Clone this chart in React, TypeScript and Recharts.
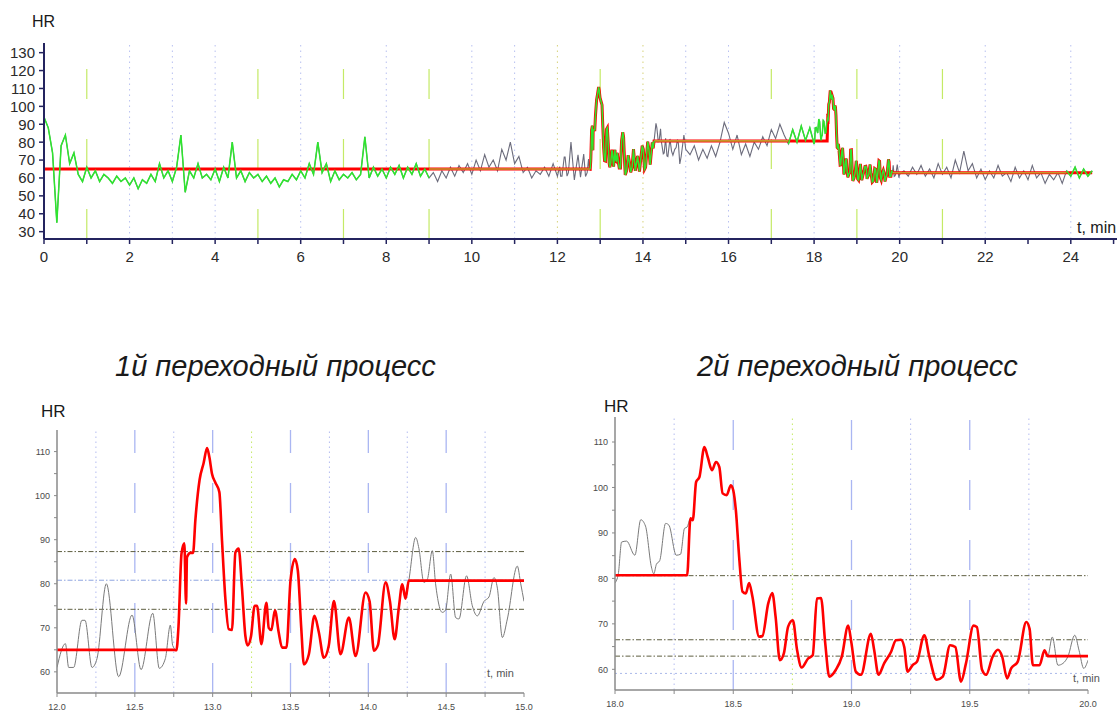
import React from "react";
import { LineChart, Line, XAxis, YAxis, ReferenceLine } from "recharts";

const FONT = '"Liberation Sans", Arial, Helvetica, sans-serif';
const NAVY = "#24245f";
const AXIS_GRAY = "#8a8a8a";

// ─── Overview record (0.1 min samples) ────────────────────────────────────────
const OVERVIEW_STEP = 0.1;

// 0.0 – 11.9 min
const hrStart = [
  94, 88, 74, 35, 78, 84, 68, 74, 62, 58,
  66, 60, 64, 58, 62, 60, 57, 61, 58, 60,
  56, 60, 54, 59, 57, 62, 58, 68, 60, 64,
  58, 66, 84, 52, 64, 60, 68, 60, 62, 59,
  65, 58, 66, 60, 80, 60, 64, 58, 63, 60,
  62, 58, 61, 57, 60, 55, 59, 58, 62, 59,
  64, 60, 68, 62, 80, 63, 68, 58, 64, 59,
  62, 60, 63, 59, 62, 83, 60, 66, 61, 65,
  60, 66, 62, 67, 60, 66, 62, 68, 61, 65,
  60, 63, 58, 64, 60, 66, 61, 67, 63, 68,
  62, 70, 64, 73, 66, 70, 64, 76, 70, 80,
  68, 72, 63, 66, 60, 64, 62, 66, 61, 68,
];

// 15.1 – 17.9 min
const hrMiddle = [
  73, 78, 70, 76, 71, 78, 72, 80, 91, 85,
  76, 84, 73, 79, 72, 80, 76, 83, 78, 87,
  82, 90, 84, 79, 87, 80, 89, 81, 88,
];

// 20.1 – 24.5 min
const hrEnd = [
  64, 61, 66, 62, 67, 61, 65, 60, 68, 62,
  66, 60, 70, 63, 75, 64, 68, 60, 65, 59,
  64, 60, 67, 61, 63, 58, 66, 60, 64, 59,
  67, 60, 63, 57, 62, 59, 63, 57, 64, 61,
  66, 60, 65, 61, 64,
];

// ─── 1st transient, 12 – 15 min ──────────────────────────────────────────────
const transient1Times = [
  12.0, 12.054, 12.075, 12.107, 12.16, 12.18, 12.225, 12.257, 12.317, 12.396,
  12.482, 12.54, 12.615, 12.657, 12.696, 12.728, 12.743, 12.767, 12.78, 12.8,
  12.818, 12.829, 12.835, 12.857, 12.874, 12.889, 12.916, 12.942, 12.964, 12.979,
  12.996, 13.017, 13.043, 13.06, 13.081, 13.103, 13.124, 13.146, 13.167, 13.188,
  13.21, 13.225, 13.246, 13.27, 13.285, 13.313, 13.345, 13.36, 13.377, 13.4,
  13.424, 13.446, 13.474, 13.5, 13.528, 13.547, 13.569, 13.586, 13.618, 13.654,
  13.682, 13.714, 13.746, 13.779, 13.821, 13.875, 13.918, 13.982, 14.008, 14.036,
  14.061, 14.111, 14.139, 14.169, 14.196, 14.218, 14.239, 14.26, 14.304, 14.325,
  14.357, 14.379, 14.411, 14.432, 14.475, 14.496, 14.529, 14.561, 14.582, 14.631,
  14.668, 14.7, 14.743, 14.775, 14.807, 14.829, 14.861, 14.893, 14.957, 14.979, 15.0,
];
const transient1Hr = [
  61, 66.4, 61, 61, 71.7, 71.7, 61, 63, 80, 58.9,
  72.9, 60.5, 73.3, 60.8, 63, 70.6, 66, 64.9, 70, 86.9,
  89.2, 75.5, 86, 87, 87, 94.5, 103.6, 107.4, 110.8, 108.7,
  104.9, 103, 100.8, 89.8, 76.9, 69.7, 69.5, 87.1, 88, 79.2,
  68.2, 66, 68, 75, 75, 66.3, 75.7, 70, 69.5, 74,
  69, 65.5, 65.5, 80.7, 85.6, 83, 70, 61.7, 64, 72.7,
  69, 63.2, 66, 76.1, 64, 72.3, 63.6, 78, 76, 64.8,
  66, 80.3, 76, 67.4, 74.6, 79.9, 76.6, 80.7, 90.5, 88,
  80.3, 81, 87.5, 80, 73.5, 74, 82.2, 72.3, 72, 81.8,
  75, 72.7, 76, 77, 81.4, 79, 67.8, 72, 84, 80, 76,
];

// ─── 2nd transient, 18 – 20 min ──────────────────────────────────────────────
const transient2Times = [
  18.0, 18.014, 18.028, 18.049, 18.084, 18.109, 18.129, 18.154, 18.164, 18.175,
  18.189, 18.214, 18.228, 18.259, 18.277, 18.294, 18.305, 18.319, 18.329, 18.343,
  18.357, 18.378, 18.392, 18.41, 18.427, 18.441, 18.455, 18.472, 18.49, 18.5,
  18.511, 18.525, 18.539, 18.553, 18.567, 18.581, 18.609, 18.623, 18.648, 18.665,
  18.679, 18.697, 18.714, 18.732, 18.752, 18.77, 18.789, 18.817, 18.836, 18.854,
  18.871, 18.889, 18.906, 18.934, 18.959, 18.986, 19.0, 19.018, 19.04, 19.082,
  19.096, 19.114, 19.138, 19.167, 19.188, 19.209, 19.223, 19.237, 19.258, 19.277,
  19.308, 19.329, 19.36, 19.386, 19.417, 19.439, 19.463, 19.484, 19.516, 19.53,
  19.552, 19.569, 19.597, 19.619, 19.637, 19.658, 19.675, 19.703, 19.739, 19.753,
  19.767, 19.795, 19.816, 19.83, 19.849, 19.873, 19.894, 19.915, 19.944, 19.962, 19.982, 20.0,
];
const transient2Hr = [
  79, 81, 88, 88.2, 85.1, 92.9, 91.5, 82.5, 81, 83.1,
  83.9, 92.1, 91.7, 85.1, 85.3, 91, 91.3, 93.2, 92.8, 101.2,
  102.3, 108.9, 106.7, 103.8, 105.6, 104.5, 98.7, 98.3, 100.5, 99.4,
  95, 84.7, 77.1, 76.7, 79, 76, 67.2, 67.3, 74.5, 76.8,
  71.6, 62, 63.5, 69.4, 70.8, 64.2, 60.4, 62.4, 63.1, 75.6,
  75.7, 65.7, 58.4, 59.9, 62.8, 69.6, 65.7, 59.5, 58.8, 67.8,
  64.2, 58.8, 61.3, 63.8, 66.4, 66.5, 64.9, 59.5, 60.9, 61.7,
  67.5, 62.8, 57.7, 58.4, 65.3, 64.9, 57.3, 61.3, 69.6, 69.3,
  59.9, 58.8, 62.8, 64.3, 62.8, 58, 60.2, 61.7, 70.4, 68.9,
  60.9, 60.9, 64.2, 62.9, 67.1, 60.9, 61.3, 62.8, 67.5, 64.2, 60.2, 62,
];

// ─── Steady levels and segments ──────────────────────────────────────────────
const levels = [65, 80.7, 62.9];
const transientWindows: [number, number][] = [[12.767, 14.26], [18.319, 19.83]];
const greenSpans: [number, number][] = [[0, 9], [12.767, 14.26], [17.4, 19.83], [23.9, 24.5]];
const oliveSpans: [number, number][] = [[9, 12.767], [14.26, 17.4], [19.83, 23.9]];

// ─── Tick labels ─────────────────────────────────────────────────────────────
const topXTicks = Array.from({ length: 26 }, (_, i) => i);
const topYTicks = [30, 40, 50, 60, 70, 80, 90, 100, 110, 120, 130];
const zoomYTicks = [60, 65, 70, 75, 80, 85, 90, 95, 100, 105, 110];
const zoom1XTicks = [12, 12.25, 12.5, 12.75, 13, 13.25, 13.5, 13.75, 14, 14.25, 14.5, 14.75, 15];
const zoom2XTicks = [18, 18.25, 18.5, 18.75, 19, 19.25, 19.5, 19.75, 20];

// ─── Grid styling (not data) ─────────────────────────────────────────────────
const topGridKinds = ["g", "b", "b", "b", "g", "b", "g", "b", "g", "b", "b", "y", "g", "y", "b", "b", "g", "b", "g", "b", "g", "b", "", "b"];
const zoom1GridKinds = ["dot", "dash", "dot", "dash", "green", "dash", "dot", "dash", "dot", "dash", "dot"];
const zoom2GridKinds = ["dot", "dash", "green", "dash", "dot", "dash", "dot"];

const gridStyle: Record<string, { stroke: string; dash: string; w: number }> = {
  g: { stroke: "#c4ea66", dash: "30 40", w: 1.2 },
  b: { stroke: "#b8c0f0", dash: "1.5 4", w: 1 },
  y: { stroke: "#d6d27a", dash: "1.5 4", w: 1 },
  dash: { stroke: "#aab6f2", dash: "30 30", w: 1.3 },
  dot: { stroke: "#b4bcf0", dash: "1.5 3.5", w: 1 },
  green: { stroke: "#c4ea66", dash: "1.5 3.5", w: 1 },
  dd: { stroke: "#5e5e40", dash: "5 2 1.5 2", w: 1 },
  db: { stroke: "#8ea4e0", dash: "5 2 1.5 2", w: 1 },
  lb: { stroke: "#aab8ea", dash: "2 3", w: 1 },
};

const zoom1HLines: [number, string][] = [[87.3, "dd"], [80.8, "db"], [74.2, "dd"]];
const zoom2HLines: [number, string][] = [[80.6, "dd"], [66.5, "dd"], [62.9, "dd"], [59.1, "lb"]];

// ─── Series building ─────────────────────────────────────────────────────────
type Pt = { t: number; v: number };

const sampled = (start: number, values: number[]): Pt[] =>
  values.map((v, i) => ({ t: Math.round((start + i * OVERVIEW_STEP) * 100) / 100, v }));
const paired = (times: number[], values: number[]): Pt[] => times.map((t, i) => ({ t, v: values[i] }));

const detail1 = paired(transient1Times, transient1Hr);
const detail2 = paired(transient2Times, transient2Hr);
const overview: Pt[] = [
  ...sampled(0, hrStart),
  ...detail1,
  ...sampled(15.1, hrMiddle),
  ...detail2,
  ...sampled(20.1, hrEnd),
];

const inSpan = (t: number, [a, b]: [number, number]) => t >= a && t <= b;
const levelAt = (t: number) =>
  t < transientWindows[0][0] ? levels[0] : t < transientWindows[1][0] ? levels[1] : levels[2];
const toModel = (pts: Pt[]): Pt[] =>
  pts.map((p) => ({ t: p.t, v: transientWindows.some((w) => inSpan(p.t, w)) ? p.v : levelAt(p.t) }));
const within = (pts: Pt[], span: [number, number]) => pts.filter((p) => inSpan(p.t, span));

const overviewModel = toModel(overview);

// ─── Ticks ───────────────────────────────────────────────────────────────────
type TickOpts = { size: number; fill: string; anchor: "middle" | "end"; dy: string; format: (v: number) => string | null };
const makeTick = (o: TickOpts) => (props: any) => {
  const { x, y, payload } = props;
  const label = o.format(payload.value);
  if (label === null) return <g />;
  return (
    <text x={x} y={y} dy={o.dy} textAnchor={o.anchor} fontSize={o.size} fill={o.fill} fontFamily={FONT}>
      {label}
    </text>
  );
};

const topXTick = makeTick({ size: 15, fill: "#2a2a2a", anchor: "middle", dy: "0.71em", format: (v) => (v % 2 === 0 && v <= 24 ? String(v) : null) });
const topYTick = makeTick({ size: 15, fill: "#2a2a2a", anchor: "end", dy: "0.36em", format: (v) => String(v) });
const zoomXTick = makeTick({ size: 9, fill: "#4a4a4a", anchor: "middle", dy: "0.71em", format: (v) => (Math.abs(v * 2 - Math.round(v * 2)) < 1e-6 ? v.toFixed(1) : null) });
const zoomYTick = makeTick({ size: 9, fill: "#4a4a4a", anchor: "end", dy: "0.36em", format: (v) => (v % 10 === 0 ? String(v) : null) });

const vLine = (x: number, kind: string, key: string) => {
  const s = gridStyle[kind];
  if (!s) return null;
  return <ReferenceLine key={key} x={x} stroke={s.stroke} strokeDasharray={s.dash} strokeWidth={s.w} />;
};
const hLine = (y: number, kind: string, key: string) => {
  const s = gridStyle[kind];
  return <ReferenceLine key={key} y={y} stroke={s.stroke} strokeDasharray={s.dash} strokeWidth={s.w} />;
};

// ─── Charts ──────────────────────────────────────────────────────────────────
function OverviewChart() {
  return (
    <LineChart width={1117} height={280} margin={{ top: 43, right: 0, bottom: 0, left: 0 }}>
      <XAxis
        dataKey="t"
        type="number"
        domain={[0, 25.08]}
        ticks={topXTicks}
        interval={0}
        allowDataOverflow
        height={41}
        tickSize={5}
        tickMargin={7}
        axisLine={{ stroke: NAVY, strokeWidth: 2 }}
        tickLine={{ stroke: NAVY, strokeWidth: 1.5 }}
        tick={topXTick}
      />
      <YAxis
        type="number"
        domain={[25.9, 135.4]}
        ticks={topYTicks}
        interval={0}
        allowDataOverflow
        width={44}
        tickSize={5}
        tickMargin={4}
        axisLine={{ stroke: NAVY, strokeWidth: 2 }}
        tickLine={{ stroke: NAVY, strokeWidth: 1.5 }}
        tick={topYTick}
      />
      {topGridKinds.map((k, i) => vLine(i + 1, k, `tg${i}`))}
      <Line data={overview} dataKey="v" type="linear" stroke="#6c6c7c" strokeWidth={1.1} dot={false} isAnimationActive={false} />
      <Line data={overviewModel} dataKey="v" type="linear" stroke="#ff0000" strokeWidth={3} dot={false} isAnimationActive={false} />
      {oliveSpans.map((s, i) => (
        <Line key={`o${i}`} data={within(overviewModel, s)} dataKey="v" type="linear" stroke="#c49a2c" strokeWidth={1.6} dot={false} isAnimationActive={false} />
      ))}
      {greenSpans.map((s, i) => (
        <Line key={`g${i}`} data={within(overview, s)} dataKey="v" type="linear" stroke="#2ee62e" strokeWidth={1.5} dot={false} isAnimationActive={false} />
      ))}
    </LineChart>
  );
}

interface ZoomProps {
  raw: Pt[];
  xDomain: [number, number];
  yDomain: [number, number];
  xTicks: number[];
  gridKinds: string[];
  hLines: [number, string][];
  width: number;
  height: number;
  margin: { top: number; right: number; bottom: number; left: number };
  yWidth: number;
  xHeight: number;
}

function TransientChart({ raw, xDomain, yDomain, xTicks, gridKinds, hLines, width, height, margin, yWidth, xHeight }: ZoomProps) {
  const inner = xTicks.slice(1, -1);
  return (
    <LineChart width={width} height={height} margin={margin}>
      <XAxis
        dataKey="t"
        type="number"
        domain={xDomain}
        ticks={xTicks}
        interval={0}
        allowDataOverflow
        height={xHeight}
        tickSize={4}
        tickMargin={7}
        axisLine={{ stroke: AXIS_GRAY, strokeWidth: 1.5 }}
        tickLine={{ stroke: AXIS_GRAY }}
        tick={zoomXTick}
      />
      <YAxis
        type="number"
        domain={yDomain}
        ticks={zoomYTicks}
        interval={0}
        allowDataOverflow
        width={yWidth}
        tickSize={3}
        tickMargin={4}
        axisLine={{ stroke: AXIS_GRAY, strokeWidth: 1.5 }}
        tickLine={{ stroke: AXIS_GRAY }}
        tick={zoomYTick}
      />
      {inner.map((x, i) => vLine(x, gridKinds[i], `zg${i}`))}
      {hLines.map(([y, k], i) => hLine(y, k, `zh${i}`))}
      <Line data={raw} dataKey="v" type="monotone" stroke="#7a7a7a" strokeWidth={1} dot={false} isAnimationActive={false} />
      <Line data={toModel(raw)} dataKey="v" type="monotone" stroke="#ff0000" strokeWidth={2.6} dot={false} isAnimationActive={false} />
    </LineChart>
  );
}

export default function App() {
  const txt = { fontFamily: FONT, fill: "#1a1a1a" } as const;
  return (
    <div style={{ position: "absolute", left: 0, top: 0, width: 1117, height: 715, overflow: "hidden", background: "#fff" }}>
      <div style={{ position: "absolute", left: 0, top: 0 }}>
        <OverviewChart />
      </div>
      <div style={{ position: "absolute", left: 0, top: 400 }}>
        <TransientChart
          raw={detail1}
          xDomain={[12, 15]}
          yDomain={[55.2, 114.9]}
          xTicks={zoom1XTicks}
          gridKinds={zoom1GridKinds}
          hLines={zoom1HLines}
          width={545}
          height={315}
          margin={{ top: 30, right: 21, bottom: 0, left: 0 }}
          yWidth={57}
          xHeight={22}
        />
      </div>
      <div style={{ position: "absolute", left: 560, top: 390 }}>
        <TransientChart
          raw={detail2}
          xDomain={[18, 20]}
          yDomain={[55.45, 115.5]}
          xTicks={zoom2XTicks}
          gridKinds={zoom2GridKinds}
          hLines={zoom2HLines}
          width={557}
          height={325}
          margin={{ top: 27, right: 29, bottom: 0, left: 0 }}
          yWidth={55}
          xHeight={25}
        />
      </div>
      <svg width={1117} height={715} style={{ position: "absolute", left: 0, top: 0, pointerEvents: "none" }}>
        <text x={32} y={27} fontSize={16} {...txt}>HR</text>
        <text x={1077} y={233} fontSize={16} {...txt}>t, min</text>
        <text x={115} y={376} fontSize={29} fontStyle="italic" {...txt}>1й переходный процесс</text>
        <text x={697} y={376} fontSize={29} fontStyle="italic" {...txt}>2й переходный процесс</text>
        <text x={41} y={417} fontSize={17} {...txt}>HR</text>
        <text x={604} y={412} fontSize={17} {...txt}>HR</text>
        <text x={487} y={677} fontSize={11} fontFamily={FONT} fill="#555">t, min</text>
        <text x={1073} y={682} fontSize={11} fontFamily={FONT} fill="#555">t, min</text>
      </svg>
    </div>
  );
}
